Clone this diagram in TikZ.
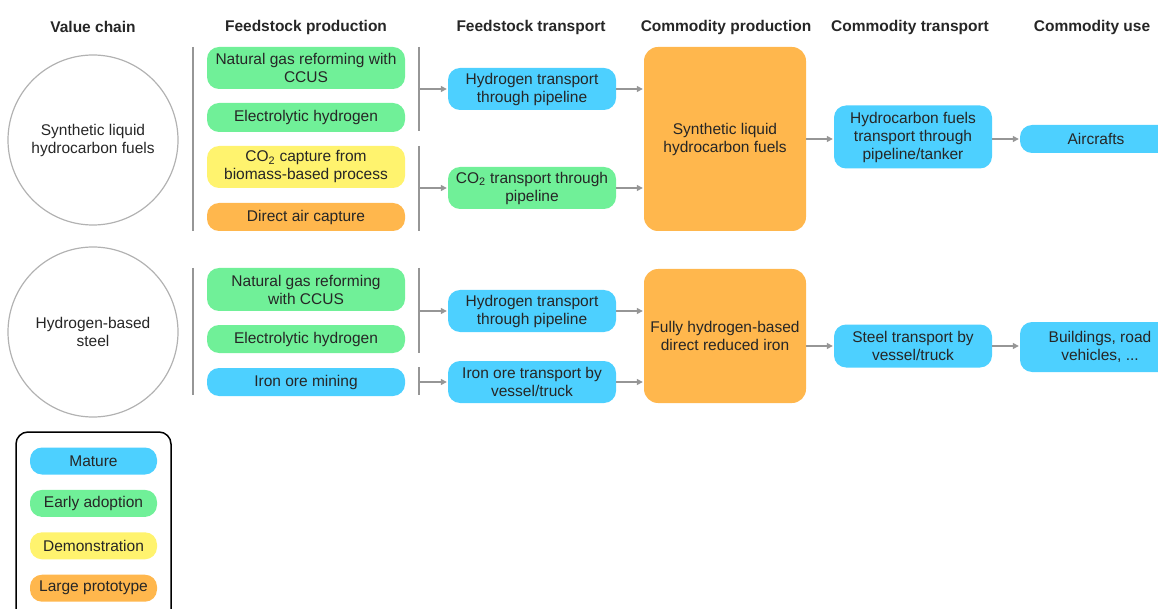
\documentclass[tikz,border=0pt]{standalone}
\usepackage{fontspec}
\setmainfont{Liberation Sans}
\usepackage{xcolor}
\usepackage{tikz}
\usetikzlibrary{arrows.meta,calc,positioning}

\definecolor{mature}{RGB}{77,208,255}
\definecolor{early}{RGB}{112,240,152}
\definecolor{demo}{RGB}{255,243,110}
\definecolor{proto}{RGB}{255,183,77}
\definecolor{rulegray}{RGB}{150,150,150}

\begin{document}
\begin{tikzpicture}[x=1pt,y=-1pt,>={Triangle[width=6pt,length=6pt]},font=\fontsize{15.5}{18}\selectfont,
    stage/.style={rectangle,rounded corners=12pt,align=center,inner sep=2pt,text=black!85},
    feed/.style={stage,minimum width=198pt},
    trans/.style={stage,minimum width=168pt,minimum height=42pt},
    prod/.style={stage,fill=proto,minimum width=162pt,rounded corners=14pt},
    ctrans/.style={stage,fill=mature,minimum width=158pt},
    use/.style={stage,fill=mature,minimum width=152pt},
    key/.style={stage,minimum width=127pt,minimum height=27pt},
    head/.style={font=\fontsize{15.5}{18}\selectfont\bfseries,text=black!85},
    chain/.style={circle,draw=black!30,line width=1.2pt,minimum size=170pt,align=center,text=black!85},
    rule/.style={draw=rulegray,line width=1.5pt},
    flow/.style={->,rulegray,line width=1.3pt,shorten >=1pt}]
    \useasboundingbox (0,0) rectangle (1158,609);

    % column heads
    \node[head] (hchain) at (93,27) {Value chain};
    \node[head] (hfprod) at (306,27) {Feedstock production};
    \node[head] (hftrans) at (531,27) {Feedstock transport};
    \node[head] (hcprod) at (726,27) {Commodity production};
    \node[head] (hctrans) at (910,27) {Commodity transport};
    \node[head] (hcuse) at (1092,27) {Commodity use};

    % synthetic liquid hydrocarbon fuels
    \node[chain] (slhf) at (93,140) {Synthetic liquid\\hydrocarbon fuels};
    \draw[rule] (193,47) -- (193,231);
    \node[feed,fill=early,minimum height=42pt] (ngr1) at (306,68) {Natural gas reforming with\\CCUS};
    \node[feed,fill=early,minimum height=29pt] (elh1) at (306,117.5) {Electrolytic hydrogen};
    \node[feed,fill=demo,minimum height=42pt] (bio1) at (306,167) {CO\textsubscript{2} capture from\\biomass-based process};
    \node[feed,fill=proto,minimum height=28pt] (dac1) at (306,217) {Direct air capture};
    \draw[rule] (419,47) -- (419,131);
    \draw[rule] (419,146) -- (419,231);
    \coordinate (hjoin1) at (419,89);
    \coordinate (cjoin1) at (419,188);
    \node[trans,fill=mature] (hpipe1) at (532,89) {Hydrogen transport\\through pipeline};
    \node[trans,fill=early] (cpipe1) at (532,188) {CO\textsubscript{2} transport through\\pipeline};
    \node[prod,minimum height=184pt] (fuels) at (725,139) {Synthetic liquid\\hydrocarbon fuels};
    \node[ctrans,minimum height=63pt] (tanker) at (913,137) {Hydrocarbon fuels\\transport through\\pipeline/tanker};
    \node[use,minimum height=28pt] (air) at (1096,139) {Aircrafts};

    \path[flow] (hjoin1) edge (hpipe1)
        (cjoin1) edge (cpipe1)
        (hpipe1.east) edge (hpipe1.east -| fuels.west)
        (cpipe1.east) edge (cpipe1.east -| fuels.west)
        (fuels.east) edge (fuels.east -| tanker.west)
        (tanker.east |- air) edge (air.west);

    % hydrogen-based steel
    \node[chain] (hbs) at (93,332) {Hydrogen-based\\steel};
    \draw[rule] (193,268) -- (193,395);
    \node[feed,fill=early,minimum height=43pt] (ngr2) at (306,289.5) {Natural gas reforming\\with CCUS};
    \node[feed,fill=early,minimum height=28pt] (elh2) at (306,339) {Electrolytic hydrogen};
    \node[feed,fill=mature,minimum height=28pt] (ore) at (306,382) {Iron ore mining};
    \draw[rule] (419,268) -- (419,353);
    \draw[rule] (419,367) -- (419,395);
    \coordinate (hjoin2) at (419,311);
    \coordinate (ojoin2) at (419,382);
    \node[trans,fill=mature] (hpipe2) at (532,311) {Hydrogen transport\\through pipeline};
    \node[trans,fill=mature] (oretrk) at (532,382) {Iron ore transport by\\vessel/truck};
    \node[prod,minimum height=134pt] (dri) at (725,336) {Fully hydrogen-based\\direct reduced iron};
    \node[ctrans,minimum height=43pt] (steeltrk) at (913,346) {Steel transport by\\vessel/truck};
    \node[use,minimum width=160pt,minimum height=50pt] (bldg) at (1100,347) {Buildings, road\\vehicles, ...};

    \path[flow] (hjoin2) edge (hpipe2)
        (ojoin2) edge (oretrk)
        (hpipe2.east) edge (hpipe2.east -| dri.west)
        (oretrk.east) edge (oretrk.east -| dri.west)
        (dri.east |- steeltrk.west) edge (steeltrk.west)
        (steeltrk.east) edge (steeltrk.east -| bldg.west);

    % maturity legend
    \node[draw=black,line width=1.5pt,rounded corners=12pt,minimum width=155pt,minimum height=196pt] (legend) at (93.5,530) {};
    \node[key,fill=mature] (kmature) at (93.5,461) {Mature};
    \node[key,fill=early,below=15pt of kmature] (kearly) {Early adoption};
    \node[key,fill=demo,below=15pt of kearly] (kdemo) {Demonstration};
    \node[key,fill=proto,below=15pt of kdemo] (kproto) {Large prototype};
\end{tikzpicture}
\end{document}
